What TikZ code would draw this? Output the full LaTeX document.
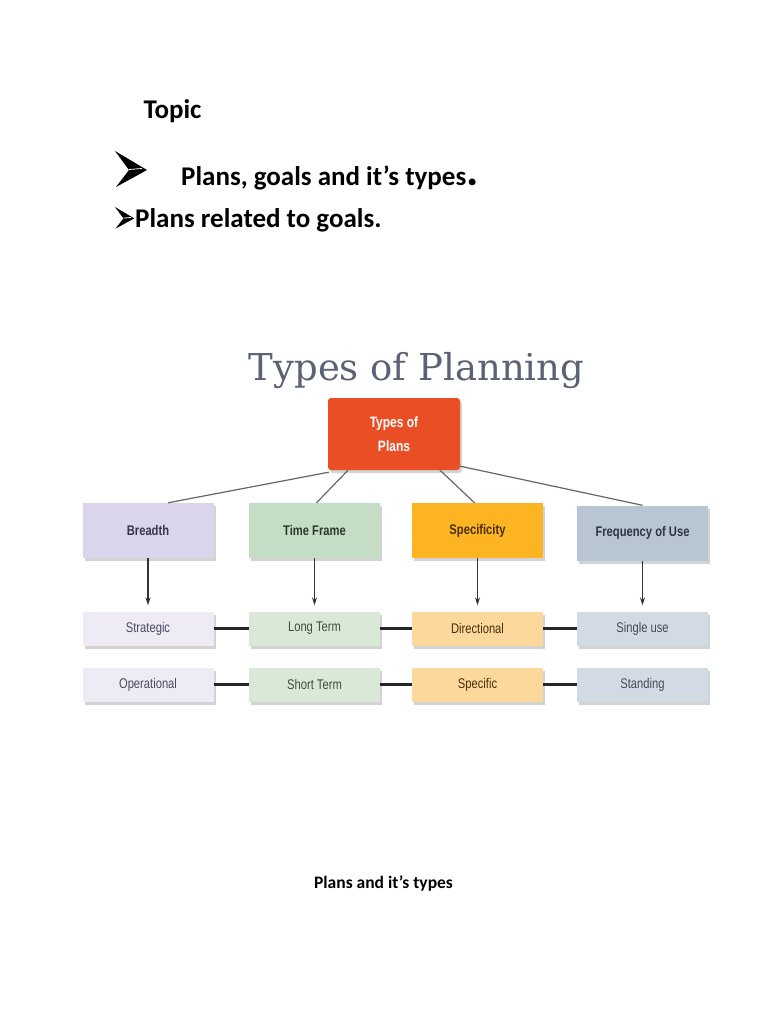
\documentclass[tikz,border=0pt]{standalone}
\usepackage{fontspec}
\setmainfont{Carlito}
\newfontfamily\condfont[FakeStretch=0.8]{Liberation Sans}
\newfontfamily\titlefont{DejaVu Serif}
\usetikzlibrary{arrows.meta,shadows}
\definecolor{titlegray}{HTML}{5B6275}
\definecolor{plansred}{HTML}{E94E25}
\definecolor{breadthfill}{HTML}{DAD5EA}
\definecolor{breadthlight}{HTML}{EEEBF5}
\definecolor{breadthtext}{HTML}{3A3350}
\definecolor{timefill}{HTML}{C5DCC5}
\definecolor{timelight}{HTML}{D9E8D7}
\definecolor{timetext}{HTML}{2A3A2A}
\definecolor{specfill}{HTML}{FCB423}
\definecolor{speclight}{HTML}{FDD89C}
\definecolor{spectext}{HTML}{4A2E0A}
\definecolor{freqfill}{HTML}{B7C6D2}
\definecolor{freqlight}{HTML}{D2DBE3}
\definecolor{freqtext}{HTML}{2C3644}
\tikzset{
  arrowbullet/.pic={
    \fill (0,0) -- (32,19) -- (1,36) -- (14,19) -- cycle;
    \draw[white,line width=0.8pt] (14,18.5) -- (27,17.5);
  }
}
\begin{document}
\begin{tikzpicture}[x=1pt,y=-1pt,
    box/.style={inner sep=0pt,minimum width=131pt,
      drop shadow={shadow xshift=2pt,shadow yshift=-3pt,opacity=0.35}},
    kind/.style={box,minimum height=55pt,
      font=\condfont\bfseries\fontsize{14}{16}\selectfont},
    plan/.style={box,minimum height=34pt,
      font=\condfont\fontsize{14}{16}\selectfont},
    branch/.style={draw=gray!80!black,line width=1.2pt},
    down/.style={draw=black!80,line width=1.2pt,shorten >=6pt,
      -{Stealth[length=8pt,width=5pt]}},
    link/.style={draw=black!85,line width=2.4pt}]
  \useasboundingbox (0,0) rectangle (768,1024); %pagina
  % intestazione
  \node[anchor=base west,font=\bfseries\fontsize{27}{27}\selectfont] (topic) at (140,119) {Topic};
  \pic at (115,151) {arrowbullet}; %freccia grande
  \node[anchor=base west,font=\bfseries\fontsize{27}{27}\selectfont,inner sep=0pt] (lineone) at (181,186)
    {Plans, goals and it’s types{\fontsize{46}{46}\selectfont.}};
  \pic[scale=0.6] at (115,207) {arrowbullet}; %freccia piccola
  \node[anchor=base west,font=\bfseries\fontsize{27}{27}\selectfont,inner sep=0pt] (linetwo) at (135,227)
    {Plans related to goals.};
  % schema
  \node[anchor=base,font=\titlefont\fontsize{37}{37}\selectfont,text=titlegray,inner sep=0pt] (title) at (416.5,380) {Types of Planning};
  \node[box,minimum width=132pt,minimum height=72pt,rounded corners=3pt,fill=plansred,text=white,align=center,
    font=\condfont\bfseries\fontsize{15}{24}\selectfont] (plans) at (394,434) {Types of\\Plans};
  \node[kind,fill=breadthfill,text=breadthtext] (breadth) at (148,530.5) {Breadth};
  \node[kind,fill=timefill,text=timetext] (time) at (314.5,530.5) {Time Frame};
  \node[kind,fill=specfill,text=spectext] (spec) at (477.5,530.5) {Specificity};
  \node[kind,fill=freqfill,text=freqtext] (freq) at (642.5,533) {Frequency of Use};
  \node[plan,fill=breadthlight,text=breadthtext!90] (strategic) at (148,628.5) {Strategic};
  \node[plan,fill=timelight,text=timetext!90] (longterm) at (314.5,628.5) {Long Term};
  \node[plan,fill=speclight,text=spectext] (directional) at (477.5,628.5) {Directional};
  \node[plan,fill=freqlight,text=freqtext!90] (singleuse) at (642.5,628.5) {Single use};
  \node[plan,fill=breadthlight,text=breadthtext!90] (operational) at (148,684.5) {Operational};
  \node[plan,fill=timelight,text=timetext!90] (shortterm) at (314.5,684.5) {Short Term};
  \node[plan,fill=speclight,text=spectext] (specific) at (477.5,684.5) {Specific};
  \node[plan,fill=freqlight,text=freqtext!90] (standing) at (642.5,684.5) {Standing};
  % rami dal riquadro principale
  \draw[branch] ([xshift=1pt,yshift=-2pt]plans.south west) -- ([xshift=20pt]breadth.north);
  \draw[branch] ([xshift=-46pt]plans.south) -- ([xshift=2pt]time.north);
  \draw[branch] ([xshift=46pt]plans.south) -- ([xshift=-3pt]spec.north);
  \draw[branch] ([yshift=4pt]plans.south east) -- (freq.north);
  % frecce verso il basso
  \foreach \a/\b in {breadth/strategic,time/longterm,spec/directional,freq/singleuse}
    \draw[down] (\a) -- (\b);
  % collegamenti orizzontali
  \foreach \a/\b in {strategic/longterm,longterm/directional,directional/singleuse,
      operational/shortterm,shortterm/specific,specific/standing}
    \draw[link] (\a) -- (\b);
  % didascalia
  \node[anchor=base,font=\bfseries\fontsize{17.5}{17.5}\selectfont] (caption) at (383.5,888) {Plans and it’s types};
\end{tikzpicture}
\end{document}
